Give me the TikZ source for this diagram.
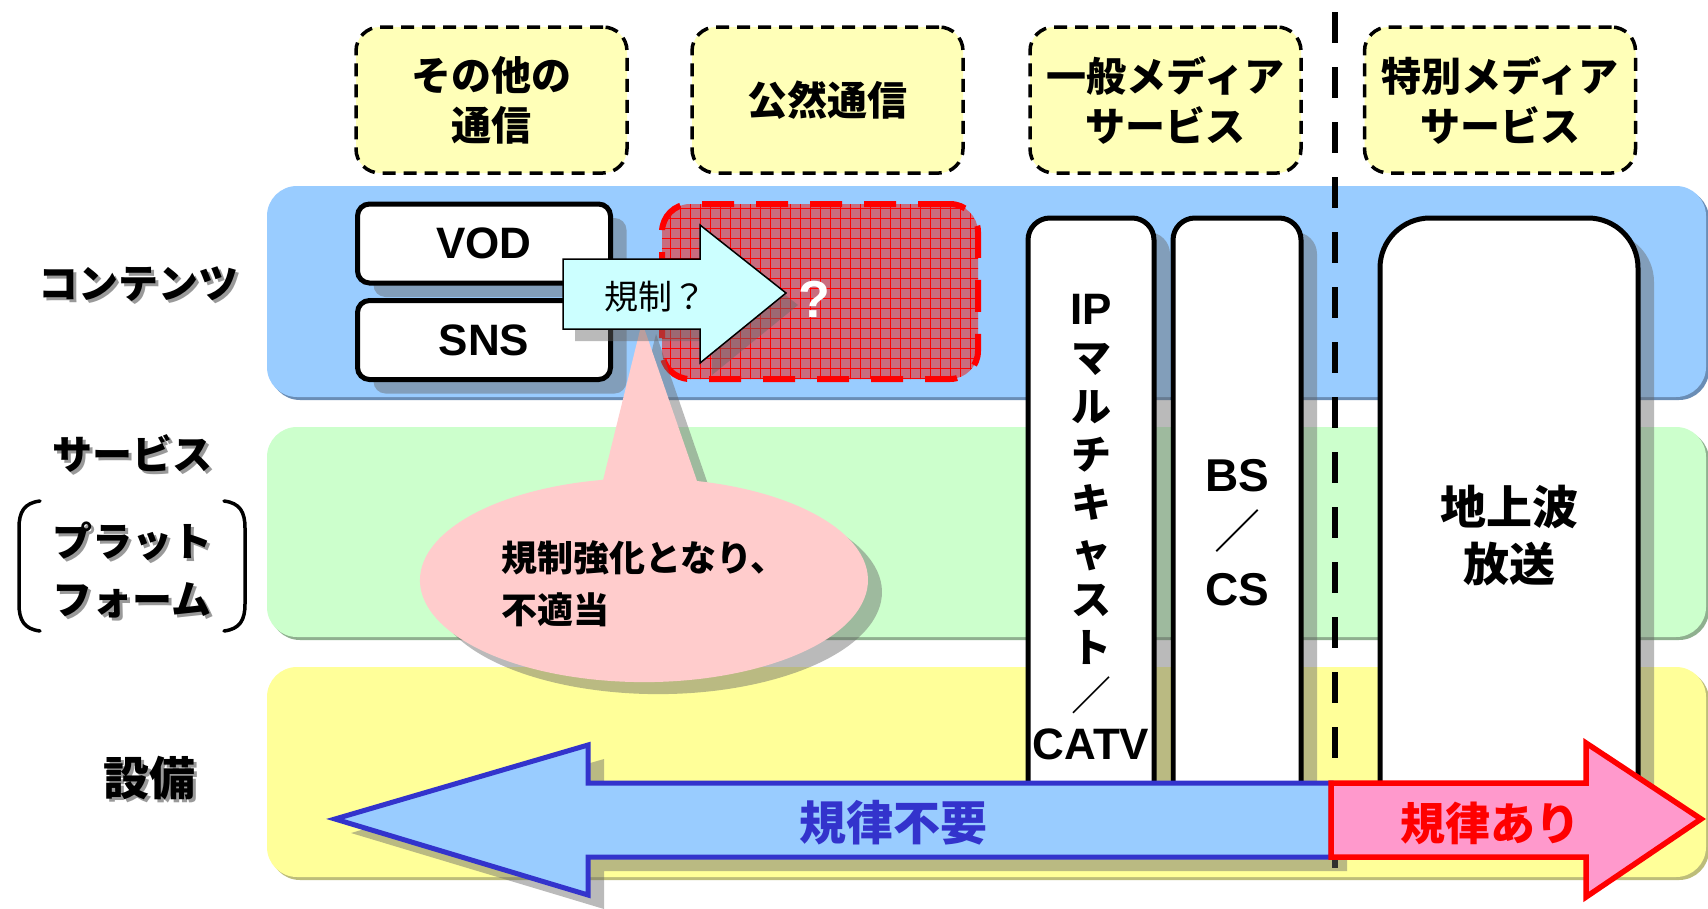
\documentclass[tikz,border=0pt]{standalone}
\usepackage{fontspec}
\setmainfont{Liberation Sans}
\newfontfamily\jp{Noto Sans CJK JP}
\usetikzlibrary{patterns.meta,shadows}
\newcommand\jpB[2]{\jp\bfseries\fontsize{#1}{#2}\selectfont}
\newcommand\jpR[2]{\jp\fontsize{#1}{#2}\selectfont}
\definecolor{bandblue}{HTML}{99CCFF}
\definecolor{bandblueD}{HTML}{6A8DB5}
\definecolor{bandgreen}{HTML}{CCFFCC}
\definecolor{bandgreenD}{HTML}{8FB08F}
\definecolor{bandyellow}{HTML}{FFFF99}
\definecolor{bandyellowD}{HTML}{BDBD7A}
\definecolor{topyellow}{HTML}{FFFFB8}
\definecolor{callpink}{HTML}{FFCCCC}
\definecolor{arrcyan}{HTML}{CCFFFF}
\definecolor{redbox}{HTML}{C96C7E}
\definecolor{navy}{HTML}{3333CC}
\definecolor{pinkarrow}{HTML}{FF99CC}
\tikzset{
  band/.style={rounded corners=30pt},
  shad/.style={drop shadow={shadow xshift=16pt, shadow yshift=-14pt, fill=black!60, opacity=0.45}},
  topbox/.style={draw=black, line width=3.5pt, dash pattern=on 13pt off 8pt, rounded corners=24pt,
    fill=topyellow, align=center, inner sep=0pt, minimum width=271pt, minimum height=146pt,
    font=\jpB{40pt}{50pt}},
  wbox/.style={draw=black, line width=5pt, fill=white, rounded corners=12pt, minimum width=253pt,
    minimum height=79pt, inner sep=0pt, font=\bfseries\fontsize{44pt}{44pt}\selectfont, shad},
  tallbox/.style={draw=black, line width=5pt, fill=white, shad},
  lbl/.style={font=\jpB{40pt}{58pt}, align=center, inner sep=0pt},
  lblshadow/.style={lbl, text=black!40},
  bracket/.style={draw=black, line width=3.5pt, line cap=round},
  divider/.style={draw=black, line width=6pt, dash pattern=on 31pt off 24pt},
  qbox/.style={draw=red, line width=6pt, dash pattern=on 32pt off 22pt, rounded corners=28pt,
    fill=redbox, minimum width=316pt, minimum height=175pt,
    postaction={pattern={Hatch[angle=0,distance=10pt,line width=0.5pt]}, pattern color=red, fill opacity=0.55}},
}
\begin{document}
\begin{tikzpicture}[x=1pt,y=-1pt]
\fill[white] (0,0) rectangle (1708,908);
\useasboundingbox (0,0) rectangle (1708,908);

% layer bands
\fill[bandblueD, band] (270,189) rectangle (1709,400);
\fill[bandblue, band] (267,186) rectangle (1706,397);
\fill[bandgreenD, band] (270,430) rectangle (1709,640);
\fill[bandgreen, band] (267,427) rectangle (1706,637);
\fill[bandyellowD, band] (270,670) rectangle (1709,880);
\fill[bandyellow, band] (267,667) rectangle (1706,877);

% top category boxes
\node[topbox] (t1) at (491.5,100) {その他の\\通信};
\node[topbox] (t2) at (827.5,100) {公然通信};
\node[topbox] (t3) at (1165.5,100) {一般メディア\\サービス};
\node[topbox] (t4) at (1500,100) {特別メディア\\サービス};

% left layer labels
\node[lblshadow] (l1s) at (141,287) {コンテンツ};
\node[lbl] (l1) at (138,284) {コンテンツ};
\node[lblshadow] (l2s) at (135,456) {サービス};
\node[lbl] (l2) at (132,453) {サービス};
\node[lblshadow] (l3s) at (135,573) {プラット\\フォーム};
\node[lbl] (l3) at (132,570) {プラット\\フォーム};
\node[lblshadow, font=\jpB{46pt}{46pt}] (l4s) at (152,781) {設備};
\node[lbl, font=\jpB{46pt}{46pt}] (l4) at (149,778) {設備};
\draw[bracket] (40,501) .. controls (24,503) and (19,512) .. (19,528) -- (19,604) .. controls (19,620) and (24,629) .. (40,631);
\draw[bracket] (224,501) .. controls (240,503) and (245,512) .. (245,528) -- (245,604) .. controls (245,620) and (240,629) .. (224,631);

% dashed divider
\coordinate (dtop) at (1335,12);
\coordinate (dbot) at (1335,884);
\draw[divider] (dtop) -- (dbot);

% red question box
\node[qbox] (rq) at (820,291.5) {};

% tall service boxes
\path[tallbox, rounded corners=22pt] (1028,805) |- (1154,218) -- (1154,805);
\path[tallbox, rounded corners=22pt] (1173,805) |- (1301,218) -- (1301,805);
\path[tallbox, rounded corners=50pt] (1380,805) |- (1638,218) -- (1638,805);
\node[font=\jpB{40pt}{48.3pt}, align=center, inner sep=0pt] (ipt) at (1091,527)
  {{\rmfamily\bfseries\fontsize{44pt}{48.3pt}\selectfont IP}\\マ\\ル\\チ\\キ\\ャ\\ス\\ト\\{\mdseries ／}\\{\rmfamily\bfseries\fontsize{44pt}{48.3pt}\selectfont CATV}};
\node[font=\bfseries\fontsize{46pt}{57pt}\selectfont, align=center, inner sep=0pt] (bst) at (1237,533)
  {BS\\{\jp\mdseries ／}\\CS};
\node[font=\jpB{46pt}{57pt}, align=center, inner sep=0pt] (gt) at (1509,536) {地上波\\放送};

% callout
\path[fill=callpink, drop shadow={shadow xshift=14pt, shadow yshift=-12pt, fill=black!60, opacity=0.45}]
  (697,481) arc[start angle=76.3, end angle=-259.5, x radius=224pt, y radius=102pt] -- (642,322) -- cycle;
\node[font=\jpB{36pt}{52pt}, align=left, anchor=west, inner sep=0pt] (ct) at (501,584) {規制強化となり、\\不適当};

% VOD / SNS
\node[wbox] (vod) at (484,243.5) {VOD};
\node[wbox] (sns) at (484,340) {SNS};

% regulation arrow
\path[fill=arrcyan, draw=black, line width=1.5pt,
  drop shadow={shadow xshift=12pt, shadow yshift=-12pt, fill=black!60, opacity=0.45}]
  (563,259) -- (700,259) -- (700,225) -- (786,293) -- (700,363) -- (700,329) -- (563,329) -- cycle;
\node[font=\jpR{34pt}{34pt}, inner sep=0pt] (kq) at (655,297) {規制？};
\node[text=white, font=\bfseries\fontsize{52pt}{52pt}\selectfont, inner sep=0pt] (qm) at (814,299) {?};

% bottom arrows
\path[fill=bandblue, draw=navy, line width=5pt, shad]
  (1331,783) -- (588,783) -- (588,745) -- (335,819) -- (588,895) -- (588,857) -- (1331,857) -- cycle;
\path[fill=pinkarrow, draw=red, line width=5.5pt]
  (1331,783) -- (1586,783) -- (1586,743) -- (1701,819) -- (1586,897) -- (1586,857) -- (1331,857) -- cycle;
\node[text=navy, font=\jpB{47pt}{47pt}, inner sep=0pt] (nr) at (893,823) {規律不要};
\node[text=red, font=\jpB{45pt}{45pt}, inner sep=0pt] (yr) at (1490,823) {規律あり};
\end{tikzpicture}
\end{document}
